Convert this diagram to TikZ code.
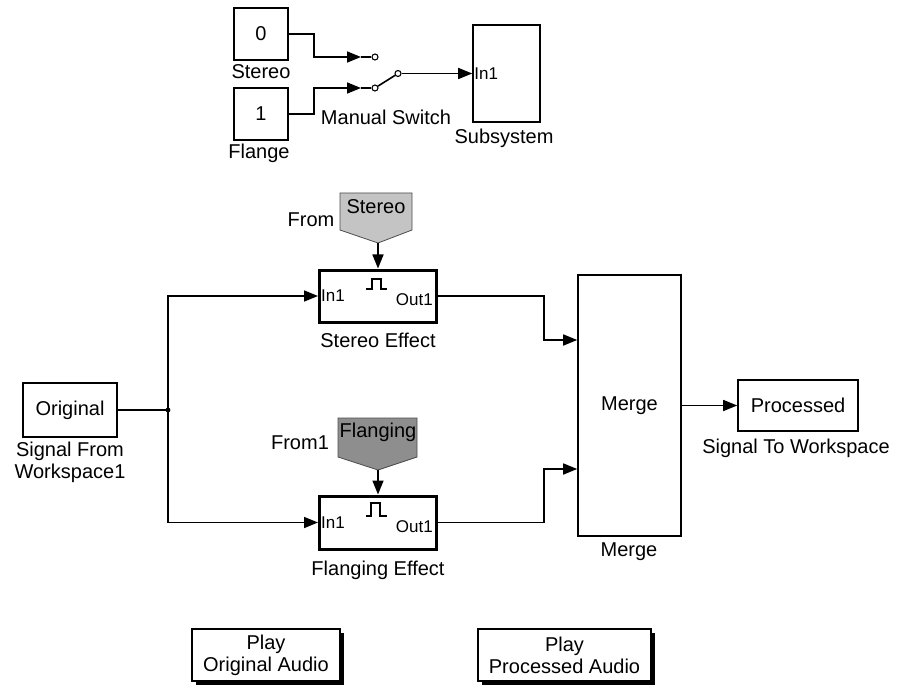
\documentclass[tikz,border=0pt]{standalone}
\usepackage{fontspec}
\setmainfont{Liberation Sans}
\usetikzlibrary{arrows.meta,calc,shadows}
\definecolor{grayA}{HTML}{C4C4C4}
\definecolor{grayB}{HTML}{8E8E8E}
\begin{document}
\begin{tikzpicture}[x=1pt,y=-1pt,
  txt/.style={font=\fontsize{20}{22}\selectfont},
  blk/.style={draw, line width=1.6pt, fill=white, inner sep=0pt, txt, align=center},
  effect/.style={draw, line width=3pt, fill=white, inner sep=0pt},
  lbl/.style={inner sep=0pt, txt, align=center},
  port/.style={inner sep=0pt, font=\fontsize{17}{19}\selectfont},
  wire/.style={line width=1.6pt},
  sig/.style={wire, -{Triangle[length=14pt,width=11pt]}},
  contact/.style={circle, draw, fill=white, inner sep=0pt, minimum size=6pt, line width=1.1pt},
  frompent/.style={draw=black!70, line width=0.8pt},
  btnshadow/.style={drop shadow={shadow xshift=4pt, shadow yshift=-4pt, fill=black, opacity=1}}
]
\useasboundingbox (0,0) rectangle (897,687);

% ---------- top: constants, manual switch, subsystem ----------
\node[blk, minimum width=54pt, minimum height=52pt] (c0) at (261,34) {0};
\node[blk, minimum width=54pt, minimum height=52pt] (c1) at (261,114) {1};
\node[lbl] (c0lbl) at (261,72) {Stereo};
\node[lbl] (c1lbl) at (259,153) {Flange};

\node[contact] (s1) at (375,57) {};
\node[contact] (s2) at (375,88) {};
\node[contact] (s3) at (398,73.5) {};
\coordinate (sw1in) at (361,57);
\coordinate (sw2in) at (361,88);
\node[lbl] (swlbl) at (386,117) {Manual Switch};

\node[blk, minimum width=67pt, minimum height=97pt] (sub) at (506.5,73.5) {};
\node[port, anchor=west] (subin) at ([xshift=2pt]sub.west) {In1};
\node[lbl] (sublbl) at (504,138) {Subsystem};

\draw[sig] (c0.east) -- ++(25,0) |- (sw1in);
\draw[wire] (sw1in) -- (s1);
\draw[sig] (c1.east) -- ++(25,0) |- (sw2in);
\draw[wire] (sw2in) -- (s2);
\draw[wire] (s2) -- (s3);
\draw[sig] (s3) -- (sub.west);

% ---------- From blocks ----------
\draw[frompent, fill=grayA] (340,193) -- (412,193) -- (412,230) -- (378,243) -- (340,230) -- cycle;
\coordinate (fromStip) at (378,243);
\node[lbl] (fromStxt) at (376,207) {Stereo};
\node[lbl] (fromSlbl) at (311,220) {From};

\draw[frompent, fill=grayB] (338,418) -- (417,418) -- (417,457) -- (378,470) -- (338,457) -- cycle;
\coordinate (fromFtip) at (378,470);
\node[lbl] (fromFtxt) at (378,432) {Flanging};
\node[lbl] (fromFlbl) at (300,443) {From1};

% ---------- effect subsystems ----------
\node[effect, minimum width=117pt, minimum height=52pt] (stereo) at (378,296) {};
\node[port, anchor=west] (stin) at ([xshift=3pt]stereo.west) {In1};
\node[port, anchor=east] (stout) at ([xshift=-5pt,yshift=-4pt]stereo.east) {Out1};
\draw[wire, line width=1.3pt] (366,289) -- (372,289) -- (372,279) -- (381,279) -- (381,289) -- (387,289);
\node[lbl] (stlbl) at (378,340) {Stereo Effect};

\node[effect, minimum width=117pt, minimum height=53pt] (flang) at (378,522.5) {};
\node[port, anchor=west] (flin) at ([xshift=3pt]flang.west) {In1};
\node[port, anchor=east] (flout) at ([xshift=-5pt,yshift=-4pt]flang.east) {Out1};
\draw[wire, line width=1.3pt] (366,516) -- (371,516) -- (371,503) -- (380,503) -- (380,516) -- (387,516);
\node[lbl] (fllbl) at (378,570) {Flanging Effect};

\draw[sig] (fromStip) -- (stereo.north);
\draw[sig] (fromFtip) -- (flang.north);

% ---------- original signal ----------
\node[blk, minimum width=94pt, minimum height=54pt] (orig) at (70,410) {Original};
\node[lbl] (origlbl) at (70,462) {Signal From\\Workspace1};
\coordinate (j) at (168,410);
\draw[wire] (orig.east) -- (j);
\fill (j) circle (2.4pt);
\draw[sig] (j) |- (stereo.west);
\draw[sig] (j) |- (flang.west);

% ---------- merge and output ----------
\node[blk, minimum width=103pt, minimum height=261pt] (merge) at (629.5,405.5) {Merge};
\node[lbl] (mergelbl) at (629,552) {Merge};
\draw[sig] (stereo.east) -- ++(106,0) |- ([yshift=65.5pt]merge.west);
\draw[sig] (flang.east) -- ++(106,0) |- ([yshift=-63.5pt]merge.west);

\node[blk, minimum width=120pt, minimum height=51pt] (proc) at (798,405.5) {Processed};
\node[lbl] (proclbl) at (796,448) {Signal To Workspace};
\draw[sig] (merge.east) -- (proc.west);

% ---------- play buttons ----------
\node[blk, btnshadow, minimum width=148pt, minimum height=52pt] (playO) at (266,655) {Play\\Original Audio};
\node[blk, btnshadow, minimum width=173pt, minimum height=52pt] (playP) at (564.5,655) {Play\\Processed Audio};
\end{tikzpicture}
\end{document}
